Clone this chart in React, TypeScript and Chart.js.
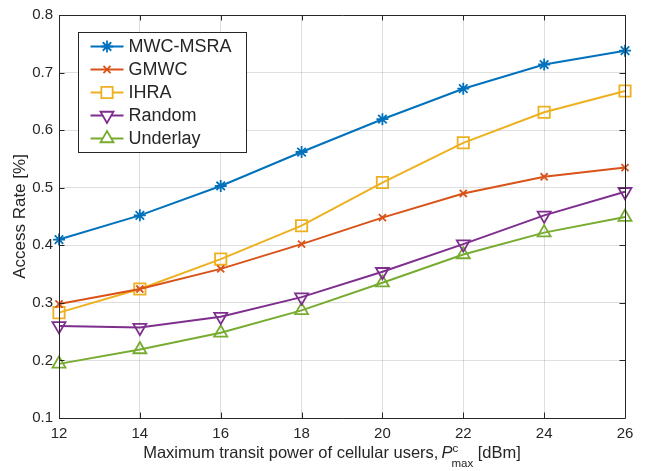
import React, { useEffect, useRef } from 'react';
import { Chart, registerables } from 'chart.js';
import { drawPoint } from 'chart.js/helpers';

Chart.register(...registerables);

// Maximum transmit power of cellular users (dBm)
const powerLevels = [12, 14, 16, 18, 20, 22, 24, 26];

// Access rate of each scheme
const mwcMsra = [0.410, 0.452, 0.503, 0.562, 0.619, 0.672, 0.714, 0.738];
const gmwc = [0.298, 0.324, 0.359, 0.402, 0.448, 0.490, 0.519, 0.535];
const ihra = [0.283, 0.324, 0.376, 0.434, 0.509, 0.578, 0.631, 0.668];
const randomAlloc = [0.260, 0.257, 0.276, 0.310, 0.354, 0.402, 0.452, 0.493];
const underlay = [0.194, 0.219, 0.248, 0.287, 0.335, 0.384, 0.422, 0.449];

const xTickValues = [12, 14, 16, 18, 20, 22, 24, 26];
const yTickValues = [0.1, 0.2, 0.3, 0.4, 0.5, 0.6, 0.7, 0.8];

const seriesNames = ['MWC-MSRA', 'GMWC', 'IHRA', 'Random', 'Underlay'];
const seriesColors = ['#0072BD', '#D95319', '#EDB120', '#7E2F8E', '#77AC30'];
const seriesMarkers = ['star', 'crossRot', 'rect', 'triangle', 'triangle'];
const seriesRotations = [0, 0, 0, 180, 0];
const seriesRadii = [6, 5, 8, 7.5, 7.5];

const FONT = "'Liberation Sans', Arial, Helvetica, sans-serif";
const AXIS_COLOR = '#262626';

const axesBoxPlugin = {
  id: 'axesBox',
  afterDatasetsDraw(chart: any) {
    const { ctx, chartArea } = chart;
    const { left, right, top, bottom } = chartArea;
    const xs = chart.scales.x;
    const ys = chart.scales.y;
    const tick = 5.5;
    ctx.save();
    ctx.strokeStyle = AXIS_COLOR;
    ctx.lineWidth = 1;
    ctx.beginPath();
    ctx.rect(Math.round(left) + 0.5, Math.round(top) + 0.5, Math.round(right - left), Math.round(bottom - top));
    xTickValues.forEach((v) => {
      const px = Math.round(xs.getPixelForValue(v)) + 0.5;
      ctx.moveTo(px, bottom);
      ctx.lineTo(px, bottom - tick);
      ctx.moveTo(px, top);
      ctx.lineTo(px, top + tick);
    });
    yTickValues.forEach((v) => {
      const py = Math.round(ys.getPixelForValue(v)) + 0.5;
      ctx.moveTo(left, py);
      ctx.lineTo(left + tick, py);
      ctx.moveTo(right, py);
      ctx.lineTo(right - tick, py);
    });
    ctx.stroke();
    ctx.restore();
  },
};

const insetLegendPlugin = {
  id: 'insetLegend',
  afterDraw(chart: any) {
    const { ctx, chartArea } = chart;
    const x0 = Math.round(chartArea.left + 19) + 0.5;
    const y0 = Math.round(chartArea.top + 17) + 0.5;
    const w = 168;
    const h = 120;
    ctx.save();
    ctx.fillStyle = '#ffffff';
    ctx.fillRect(x0, y0, w, h);
    ctx.strokeStyle = AXIS_COLOR;
    ctx.lineWidth = 1;
    ctx.strokeRect(x0, y0, w, h);
    ctx.font = `18px ${FONT}`;
    ctx.textBaseline = 'middle';
    ctx.textAlign = 'left';
    seriesNames.forEach((name, i) => {
      const cy = y0 + 14 + i * 23;
      ctx.strokeStyle = seriesColors[i];
      ctx.lineWidth = 2;
      ctx.beginPath();
      ctx.moveTo(x0 + 12, cy);
      ctx.lineTo(x0 + 45, cy);
      ctx.stroke();
      ctx.lineWidth = 1.8;
      ctx.fillStyle = '#ffffff';
      drawPoint(ctx, {
        pointStyle: seriesMarkers[i],
        radius: seriesRadii[i],
        rotation: seriesRotations[i],
        borderWidth: 1.8,
      } as any, x0 + 28.5, cy);
      ctx.fillStyle = AXIS_COLOR;
      ctx.fillText(name, x0 + 50, cy + 1);
    });
    ctx.restore();
  },
};

const axisTitlesPlugin = {
  id: 'axisTitles',
  afterDraw(chart: any) {
    const { ctx, chartArea } = chart;
    ctx.save();
    ctx.fillStyle = AXIS_COLOR;
    ctx.textBaseline = 'alphabetic';
    ctx.textAlign = 'left';

    // x-axis title with italic P, superscript c and subscript max
    const mainFont = `16.5px ${FONT}`;
    const italicFont = `italic 16.5px ${FONT}`;
    const smallFont = `11.5px ${FONT}`;
    const part1 = 'Maximum transit power of cellular users,';
    const part2 = ' [dBm]';
    ctx.font = mainFont;
    const w1 = ctx.measureText(part1).width + 3;
    const w2 = ctx.measureText(part2).width;
    ctx.font = italicFont;
    const wP = ctx.measureText('P').width - 1;
    ctx.font = smallFont;
    const wSup = ctx.measureText('c').width;
    const wSub = ctx.measureText('max').width;
    const wScript = Math.max(wSup, wSub);
    const total = w1 + wP + wScript + w2;
    const cx = (chartArea.left + chartArea.right) / 2 - 10;
    let x = cx - total / 2;
    const base = chartArea.bottom + 40;
    ctx.font = mainFont;
    ctx.fillText(part1, x, base);
    x += w1;
    ctx.font = italicFont;
    ctx.fillText('P', x, base);
    x += wP;
    ctx.font = smallFont;
    ctx.fillText('c', x + 1, base - 6);
    ctx.fillText('max', x, base + 9);
    x += wScript;
    ctx.font = mainFont;
    ctx.fillText(part2, x, base);

    // y-axis title
    ctx.translate(chartArea.left - 34, (chartArea.top + chartArea.bottom) / 2);
    ctx.rotate(-Math.PI / 2);
    ctx.textAlign = 'center';
    ctx.textBaseline = 'alphabetic';
    ctx.font = `17px ${FONT}`;
    ctx.fillText('Access Rate [%]', 0, 0);
    ctx.restore();
  },
};

export default function App() {
  const canvasRef = useRef<HTMLCanvasElement | null>(null);

  useEffect(() => {
    if (!canvasRef.current) return;
    const seriesValues = [mwcMsra, gmwc, ihra, randomAlloc, underlay];
    const chart = new Chart(canvasRef.current, {
      type: 'line',
      data: {
        datasets: seriesNames.map((name, i) => ({
          label: name,
          data: powerLevels.map((p, j) => ({ x: p, y: seriesValues[i][j] })),
          borderColor: seriesColors[i],
          backgroundColor: 'rgba(0,0,0,0)',
          borderWidth: 2,
          pointStyle: seriesMarkers[i] as any,
          pointRotation: seriesRotations[i],
          pointRadius: seriesRadii[i],
          pointBorderWidth: 1.8,
          pointBorderColor: seriesColors[i],
          pointBackgroundColor: 'rgba(0,0,0,0)',
          tension: 0,
          fill: false,
          clip: false as any,
        })),
      },
      options: {
        animation: false,
        responsive: false,
        devicePixelRatio: 1,
        layout: { padding: { left: 0, right: 21, top: 12, bottom: 0 } },
        plugins: {
          legend: { display: false },
          tooltip: { enabled: false },
        },
        scales: {
          x: {
            type: 'linear',
            min: 12,
            max: 26,
            afterFit: (scale: any) => {
              scale.height = 53;
            },
            afterBuildTicks: (scale: any) => {
              scale.ticks = xTickValues.map((v) => ({ value: v }));
            },
            ticks: {
              color: AXIS_COLOR,
              font: { family: FONT, size: 15 },
              padding: 7,
              maxRotation: 0,
              callback: (v: any) => String(v),
            },
            grid: {
              color: 'rgba(38,38,38,0.15)',
              lineWidth: 1,
              drawTicks: false,
            },
            border: { display: false },
          },
          y: {
            type: 'linear',
            min: 0.1,
            max: 0.8,
            afterFit: (scale: any) => {
              scale.width = 59;
            },
            afterBuildTicks: (scale: any) => {
              scale.ticks = yTickValues.map((v) => ({ value: v }));
            },
            ticks: {
              color: AXIS_COLOR,
              font: { family: FONT, size: 15 },
              padding: 6,
              callback: (v: any) => Number(v).toFixed(1),
            },
            grid: {
              color: 'rgba(38,38,38,0.15)',
              lineWidth: 1,
              drawTicks: false,
            },
            border: { display: false },
          },
        },
      },
      plugins: [axesBoxPlugin, insetLegendPlugin, axisTitlesPlugin],
    });
    return () => chart.destroy();
  }, []);

  return (
    <div style={{ position: 'fixed', left: 0, top: 0, width: 646, height: 471, background: '#ffffff' }}>
      <canvas ref={canvasRef} width={646} height={471} />
    </div>
  );
}
